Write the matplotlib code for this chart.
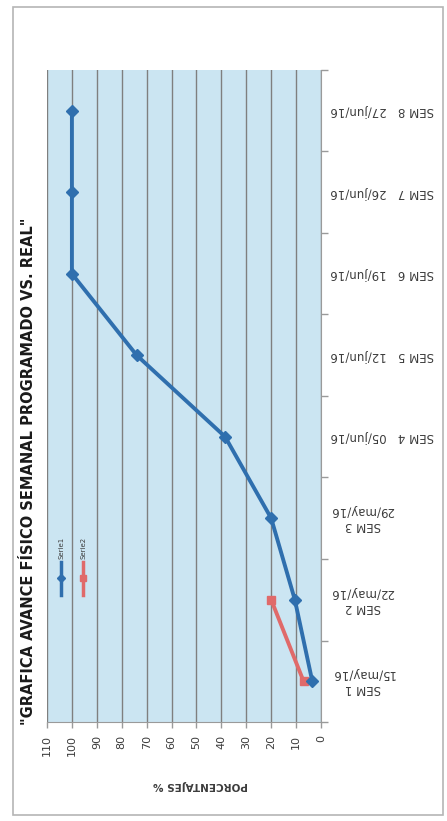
import matplotlib
matplotlib.use("Agg")
import matplotlib.pyplot as plt
from matplotlib.patches import Rectangle
from matplotlib.lines import Line2D

# ---- data ----
weeks = ["SEM 1", "SEM 2", "SEM 3", "SEM 4", "SEM 5", "SEM 6", "SEM 7", "SEM 8"]
dates = ["15/may/16", "22/may/16", "29/may/16", "05/jun/16", "12/jun/16",
         "19/jun/16", "26/jun/16", "27/jun/16"]
serie1 = [3.5, 10.5, 20, 38.5, 74, 100, 100, 100]   # programado
serie2 = [7, 20]                                    # real
pct_ticks = list(range(0, 111, 10))
title = '"GRAFICA AVANCE FÍSICO SEMANAL PROGRAMADO VS. REAL"'
axis_label = "PORCENTAJES %"
legend_labels = ["Serie1", "Serie2"]

blue = "#2f6fae"
red = "#e06a6a"
txt = "#3c3c3c"

W, H = 447, 821
fig = plt.figure(figsize=(W / 100, H / 100), dpi=100)
fig.patch.set_facecolor("white")

# outer frame
fig.add_artist(Rectangle((13 / W, 1 - 815 / H), (443 - 13) / W, (815 - 7) / H,
                         transform=fig.transFigure, fill=False,
                         edgecolor="#b5b5b5", linewidth=1.2))

ax = fig.add_axes([47 / W, 1 - 722 / H, (321 - 47) / W, (722 - 70) / H])
ax.set_facecolor("#cbe5f2")

pos = list(range(1, len(weeks) + 1))
ax.plot(serie1, pos, color=blue, lw=2.8, marker="D", ms=6,
        mfc=blue, mec=blue, zorder=4)
ax.plot(serie2, pos[:len(serie2)], color=red, lw=2.8, marker="s", ms=6,
        mfc=red, mec=red, zorder=3)

ax.set_xlim(110, 0)
ax.set_ylim(0.5, len(weeks) + 0.5)

# grid
ax.set_xticks(pct_ticks)
ax.set_xticklabels([str(v) for v in pct_ticks], rotation=90, fontsize=8,
                   color=txt)
ax.grid(axis="x", color="#7f7f7f", lw=1.0)
ax.set_axisbelow(True)
ax.tick_params(axis="x", direction="out", length=4, width=1, color="#9a9a9a",
               pad=5)

# category axis on the right, labels upside down
ax.yaxis.tick_right()
labels = []
for i, (w, d) in enumerate(zip(weeks, dates)):
    if i < 3:
        labels.append(f"{w}\n{d}")
    else:
        labels.append(f"{w}   {d}")
ax.set_yticks(pos)
ax.set_yticklabels(labels, rotation=180, fontsize=8.5, color=txt,
                   multialignment="center")
for t in ax.get_yticklabels():
    t.set_verticalalignment("center")
ax.set_yticks([p + 0.5 for p in [0] + pos], minor=True)
ax.tick_params(axis="y", which="major", length=0, pad=7)
ax.tick_params(axis="y", which="minor", length=5, width=1, color="#9a9a9a",
               direction="out")

for s in ["top", "left"]:
    ax.spines[s].set_visible(False)
ax.spines["right"].set_color("#9a9a9a")
ax.spines["bottom"].set_color("#9a9a9a")

# axis title
fig.text(200 / W, 1 - 785 / H, axis_label, rotation=180, ha="center",
         va="center", fontsize=7.5, color=txt, fontweight="bold")

# chart title
fig.text(29 / W, 1 - 471 / H, title, rotation=90, ha="center", va="center",
         fontsize=10.5, fontweight="bold", color="#1a1a1a")

# legend (vertical, rotated)
for k, (lab, col, mk) in enumerate(zip(legend_labels, [blue, red], ["D", "s"])):
    xf = (61 + 22 * k) / W
    fig.add_artist(Line2D([xf, xf], [1 - 595 / H, 1 - 562 / H],
                          transform=fig.transFigure, color=col, lw=2.5))
    fig.add_artist(Line2D([xf], [1 - 578 / H], transform=fig.transFigure,
                          color=col, marker=mk, ms=4))
    fig.text(xf, 1 - 548 / H, lab, rotation=90, ha="center", va="center",
             fontsize=5, color=txt)

fig.savefig("out.png", dpi=100)
